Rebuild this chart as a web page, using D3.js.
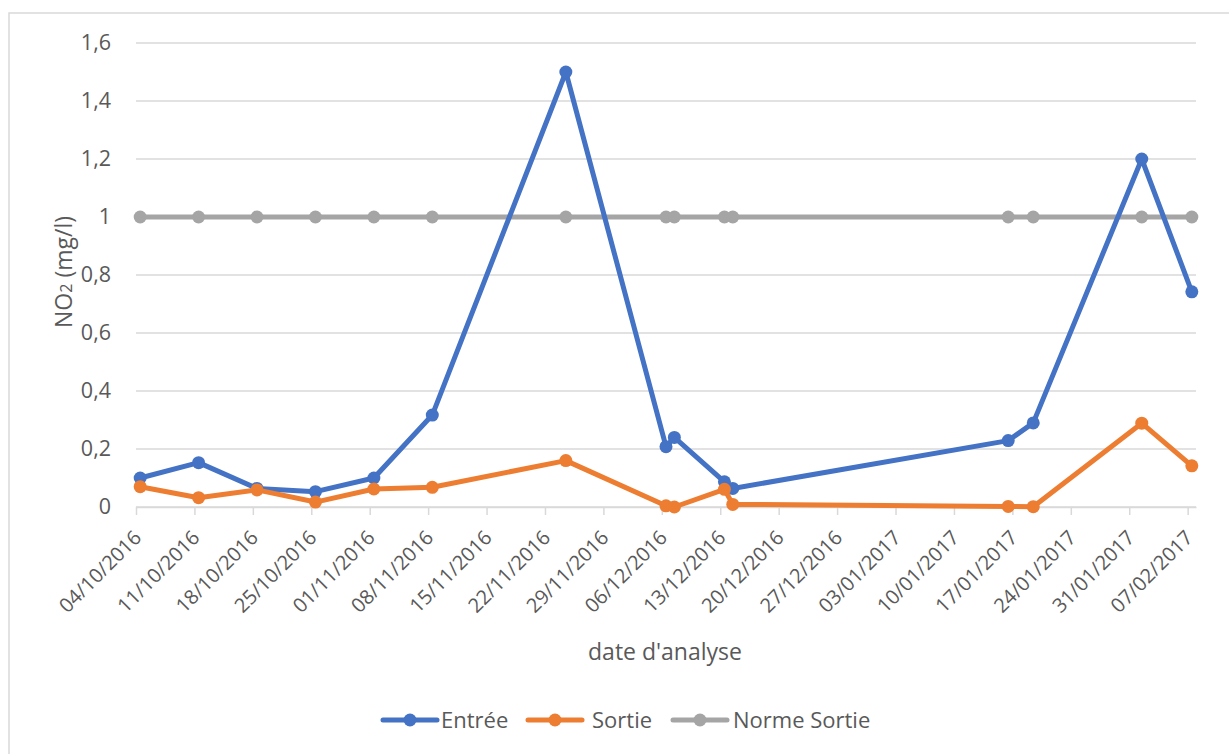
<!DOCTYPE html>
<html>
<head>
<meta charset="utf-8">
<script src="https://cdn.jsdelivr.net/npm/d3@7"></script>
<style>
    body { margin: 0; background: #fff; }
    text { font-family: "Open Sans", "Noto Sans", sans-serif; fill: #595959; }
</style>
</head>
<body>
<div id="chart"></div>
<script>
// analysis dates (dd/mm/yyyy)
let dates = ["04/10/2016", "11/10/2016", "18/10/2016", "25/10/2016", "01/11/2016", "08/11/2016",
    "24/11/2016", "06/12/2016", "07/12/2016", "13/12/2016", "14/12/2016", "16/01/2017",
    "19/01/2017", "01/02/2017", "07/02/2017"];
let entree = [0.10, 0.153, 0.064, 0.053, 0.10, 0.317, 1.5, 0.208, 0.24, 0.087, 0.064, 0.229, 0.29, 1.2, 0.742];
let sortie = [0.07, 0.032, 0.059, 0.017, 0.062, 0.068, 0.16, 0.004, 0.0, 0.061, 0.009, 0.002, 0.001, 0.289, 0.142];
let norme = [1, 1, 1, 1, 1, 1, 1, 1, 1, 1, 1, 1, 1, 1, 1];
let yTicks = [0, 0.2, 0.4, 0.6, 0.8, 1, 1.2, 1.4, 1.6];
let xStart = "04/10/2016", xEnd = "08/02/2017";

let series = [
    {name: "Norme Sortie", values: norme, color: "#A5A5A5"},
    {name: "Entrée", values: entree, color: "#4472C4"},
    {name: "Sortie", values: sortie, color: "#ED7D31"}
];
let legendOrder = ["Entrée", "Sortie", "Norme Sortie"];

let W = 1229, H = 754;
let plot = {left: 136, right: 1196, top: 43, bottom: 507};

let parse = d3.timeParse("%d/%m/%Y");
let fmt = d3.timeFormat("%d/%m/%Y");
let fmtY = v => String(v).replace(".", ",");

let svg = d3.select("#chart").append("svg")
    .attr("width", W)
    .attr("height", H);

// chart area border
svg.append("rect")
    .attr("x", 9).attr("y", 13)
    .attr("width", W).attr("height", H)
    .attr("fill", "none")
    .attr("stroke", "#d9d9d9")
    .attr("stroke-width", 1.5);

let x = d3.scaleTime()
    .domain([parse(xStart), parse(xEnd)])
    .range([plot.left, plot.right]);

let y = d3.scaleLinear()
    .domain([0, 1.6])
    .range([plot.bottom, plot.top]);

// points sit in the middle of their day
let px = d => x(d3.timeHour.offset(parse(d), 12));

// horizontal gridlines
svg.append("g")
    .selectAll("line")
    .data(yTicks)
    .join("line")
    .attr("x1", plot.left).attr("x2", plot.right)
    .attr("y1", d => y(d)).attr("y2", d => y(d))
    .attr("stroke", "#d9d9d9")
    .attr("stroke-width", 1.5);

// y axis labels
let yAxis = svg.append("g")
    .attr("transform", "translate(" + (plot.left - 22) + ",0)")
    .call(d3.axisLeft(y).tickValues(yTicks).tickFormat(fmtY).tickSize(0));
yAxis.select(".domain").remove();
yAxis.selectAll("text")
    .attr("font-size", 21.5)
    .attr("fill", "#595959")
    .style("font-family", "'Open Sans', sans-serif");

// x axis: weekly ticks
let xTicks = d3.timeDay.range(parse(xStart), d3.timeDay.offset(parse(xEnd), 1), 7);
let xAxis = svg.append("g")
    .attr("transform", "translate(0," + plot.bottom + ")")
    .call(d3.axisBottom(x).tickValues(xTicks).tickFormat(fmt).tickSize(8).tickSizeOuter(0));
xAxis.select(".domain")
    .attr("stroke", "#d9d9d9")
    .attr("stroke-width", 1.5);
xAxis.selectAll(".tick line")
    .attr("stroke", "#d9d9d9")
    .attr("stroke-width", 1.5);
xAxis.selectAll(".tick text")
    .attr("font-size", 20)
    .attr("fill", "#595959")
    .style("font-family", "'Open Sans', sans-serif")
    .attr("text-anchor", "end")
    .attr("y", 0).attr("dy", 0)
    .attr("transform", "translate(6,32) rotate(-45)");

// axis titles
svg.append("text")
    .attr("x", 665)
    .attr("y", 660)
    .attr("text-anchor", "middle")
    .attr("font-size", 23)
    .text("date d'analyse");

let yTitle = svg.append("text")
    .attr("transform", "translate(72,272) rotate(-90)")
    .attr("text-anchor", "middle")
    .attr("font-size", 23);
yTitle.append("tspan").text("NO");
yTitle.append("tspan").attr("font-size", 16).text("2");
yTitle.append("tspan").text(" (mg/l)");

// series lines and markers
let line = d3.line()
    .x((d, i) => px(dates[i]))
    .y(d => y(d));

series.forEach(function (s) {
    let g = svg.append("g");
    g.append("path")
        .attr("d", line(s.values))
        .attr("fill", "none")
        .attr("stroke", s.color)
        .attr("stroke-width", 5)
        .attr("stroke-linejoin", "round");
    g.selectAll("circle")
        .data(s.values)
        .join("circle")
        .attr("cx", (d, i) => px(dates[i]))
        .attr("cy", d => y(d))
        .attr("r", 6.5)
        .attr("fill", s.color);
});

// legend
let legendX = [383, 528, 673];
let textOffset = [58, 64, 60];
let legend = svg.append("g")
    .selectAll("g")
    .data(legendOrder)
    .join("g")
    .attr("transform", (d, i) => "translate(" + legendX[i] + ",720)");
legend.append("line")
    .attr("x1", 0).attr("x2", 54)
    .attr("stroke", d => series.find(s => s.name === d).color)
    .attr("stroke-width", 5)
    .attr("stroke-linecap", "round");
legend.append("circle")
    .attr("cx", 27).attr("r", 6.5)
    .attr("fill", d => series.find(s => s.name === d).color);
legend.append("text")
    .attr("x", (d, i) => textOffset[i])
    .attr("dy", "0.35em")
    .attr("font-size", 22)
    .text(d => d);
</script>
</body>
</html>
